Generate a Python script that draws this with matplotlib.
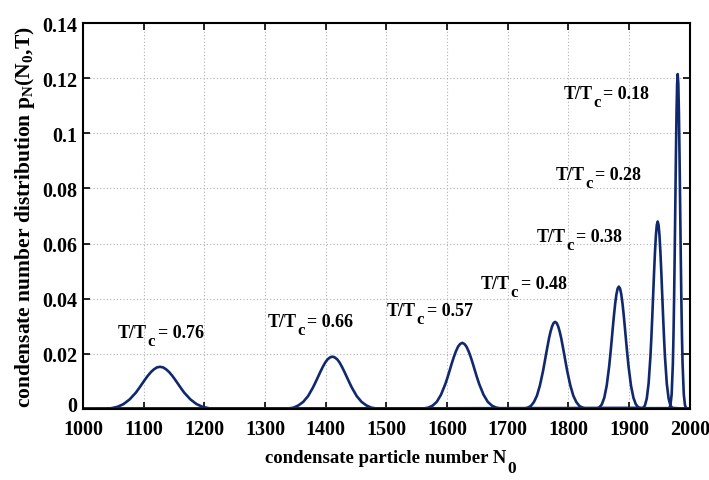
import matplotlib
matplotlib.use("Agg")
import matplotlib.pyplot as plt
from matplotlib.transforms import ScaledTranslation

plt.rcParams['font.family'] = ['Liberation Serif', 'DejaVu Serif']
plt.rcParams['font.weight'] = 'bold'
plt.rcParams['mathtext.fontset'] = 'custom'
plt.rcParams['mathtext.rm'] = 'Liberation Serif:bold'
plt.rcParams['mathtext.bf'] = 'Liberation Serif:bold'
plt.rcParams['mathtext.it'] = 'Liberation Serif:bold'
plt.rcParams['mathtext.default'] = 'rm'

# ---- data ----
x_076 = [1000, 1037, 1047, 1057, 1067, 1077, 1087, 1092, 1097, 1102, 1107, 1112, 1117, 1122, 1127, 1132, 1137, 1142, 1147, 1152, 1157, 1162, 1167, 1177, 1187, 1197, 1207, 1217, 2000]
y_076 = [0, .0001, .0003, .0008, .0018, .0035, .0059, .0074, .0090, .0106, .0121, .0134, .0144, .0151, .0153, .0151, .0144, .0134, .0121, .0106, .0090, .0074, .0059, .0035, .0018, .0008, .0003, .0001, 0]

x_066 = [1000, 1339, 1347, 1355, 1363, 1371, 1379, 1383, 1387, 1391, 1395, 1399, 1403, 1407, 1411, 1415, 1419, 1423, 1427, 1431, 1435, 1439, 1443, 1451, 1459, 1467, 1475, 1483, 2000]
y_066 = [0, .0002, .0005, .0013, .0026, .0047, .0078, .0096, .0115, .0134, .0152, .0168, .0180, .0187, .0190, .0187, .0180, .0168, .0152, .0134, .0115, .0096, .0078, .0047, .0026, .0013, .0005, .0002, 0]

x_057 = [1000, 1562, 1569, 1576, 1583, 1590, 1597, 1600.5, 1604, 1607.5, 1611, 1614.5, 1618, 1621.5, 1625, 1628.5, 1632, 1635.5, 1639, 1642.5, 1646, 1649.5, 1653, 1660, 1667, 1674, 1681, 1688, 2000]
y_057 = [0, .0002, .0005, .0012, .0026, .0052, .0090, .0113, .0138, .0164, .0188, .0209, .0226, .0236, .0240, .0236, .0226, .0209, .0188, .0164, .0138, .0113, .0090, .0052, .0026, .0012, .0005, .0002, 0]

x_048 = [1000, 1728, 1733, 1738, 1743, 1748, 1753, 1758, 1760.5, 1763, 1765.5, 1768, 1770.5, 1773, 1775.5, 1778, 1780.5, 1783, 1785.5, 1788, 1790.5, 1793, 1795.5, 1798, 1803, 1808, 1813, 1818, 1823, 1828, 2000]
y_048 = [0, .0002, .0005, .0011, .0025, .0048, .0086, .0137, .0167, .0198, .0228, .0257, .0281, .0300, .0312, .0316, .0312, .0300, .0281, .0257, .0228, .0198, .0167, .0137, .0086, .0048, .0025, .0011, .0005, .0002, 0]

x_038 = [1000, 1847, 1851, 1855, 1859, 1863, 1867, 1869, 1871, 1873, 1875, 1877, 1879, 1881, 1883, 1885, 1887, 1889, 1891, 1893, 1895, 1897, 1899, 1903, 1907, 1911, 1915, 1919, 2000]
y_038 = [0, .0002, .0006, .0017, .0041, .0085, .0154, .0198, .0245, .0294, .0341, .0383, .0416, .0437, .0444, .0437, .0416, .0383, .0341, .0294, .0245, .0198, .0154, .0085, .0041, .0017, .0006, .0002, 0]

x_028 = [1000, 1923, 1926, 1929, 1932, 1935, 1936.5, 1938, 1939.5, 1941, 1942.5, 1944, 1945.5, 1947, 1948.5, 1950, 1951.5, 1953, 1954.5, 1956, 1957.5, 1959, 1962, 1965, 1968, 1971, 2000]
y_028 = [0, .0004, .0013, .0038, .0092, .0189, .0255, .0331, .0412, .0494, .0568, .0628, .0667, .0680, .0667, .0628, .0568, .0494, .0412, .0331, .0255, .0189, .0092, .0038, .0013, .0004, 0]

x_018 = [1000, 1966, 1968, 1970, 1972, 1973, 1974, 1975, 1976, 1977, 1978, 1979, 1980, 1981, 1982, 1983, 1984, 1985, 1986, 1987, 1988, 1990, 1992, 1994, 2000]
y_018 = [0, .0003, .0013, .0053, .0164, .0263, .0395, .0556, .0737, .0917, .1072, .1178, .1215, .1178, .1072, .0917, .0737, .0556, .0395, .0263, .0164, .0053, .0013, .0003, 0]

series = [(x_076, y_076), (x_066, y_066), (x_057, y_057), (x_048, y_048),
          (x_038, y_038), (x_028, y_028), (x_018, y_018)]

labels = ['0.76', '0.66', '0.57', '0.48', '0.38', '0.28', '0.18']
label_x = [1058, 1304, 1501, 1656, 1748, 1779, 1792]
label_y = [0.0260, 0.0300, 0.0342, 0.0440, 0.0608, 0.0836, 0.1127]

x_ticks = [1000, 1100, 1200, 1300, 1400, 1500, 1600, 1700, 1800, 1900, 2000]
y_ticks = [0, 0.02, 0.04, 0.06, 0.08, 0.1, 0.12, 0.14]
y_ticklabels = ['0', '0.02', '0.04', '0.06', '0.08', '0.1', '0.12', '0.14']

# ---- figure ----
fig = plt.figure(figsize=(7.09, 4.81), dpi=100)
ax = fig.add_axes([0.117, 0.1476, 0.856, 0.8024])

line_color = '#10286e'
for xs, ys in series:
    ax.plot(xs, ys, color=line_color, lw=1.9, solid_joinstyle='round',
            solid_capstyle='round')

ax.set_xlim(1000, 2000)
ax.set_ylim(0, 0.14)
ax.set_xticks(x_ticks)
ax.set_yticks(y_ticks)
ax.set_yticklabels(y_ticklabels)
ax.tick_params(direction='in', length=5, width=1.2, top=True, right=True,
               labelsize=14.5)
ax.tick_params(axis='x', pad=7)
ax.tick_params(axis='y', pad=4)
for t in ax.get_xticklabels() + ax.get_yticklabels():
    t.set_fontweight('bold')
# lift the "0" y label a little, as in the reference
zero_lbl = ax.get_yticklabels()[0]
zero_lbl.set_transform(zero_lbl.get_transform() +
                       ScaledTranslation(0, 4 / 72, fig.dpi_scale_trans))
ax.grid(True, linestyle=(0, (1, 2)), color='#b0b0b0', lw=0.8)
for s in ax.spines.values():
    s.set_linewidth(1.5)
    s.set_color('black')

ax.set_ylabel(r'condensate number distribution p$_\mathrm{N}$(N$_\mathrm{0}$,T)',
              fontsize=15.5, fontweight='bold', labelpad=4)

fig.canvas.draw()
renderer = fig.canvas.get_renderer()

# x label with MATLAB-like low subscript
xl = fig.text(265 / 709, (481 - 463) / 481, 'condensate particle number N',
              fontsize=13.5, fontweight='bold', ha='left', va='baseline')
wx = xl.get_window_extent(renderer)
fig.text((wx.x1 + 1) / 709, (481 - 473) / 481, '0', fontsize=12.5,
         fontweight='bold', ha='left', va='baseline')

# annotations with MATLAB-like low subscript
main_fs = 13
sub_fs = 12
for lab, lx, ly in zip(labels, label_x, label_y):
    t1 = ax.text(lx, ly, 'T/T', fontsize=main_fs, fontweight='bold',
                 ha='left', va='baseline')
    w1 = t1.get_window_extent(renderer).width
    t2 = ax.annotate('c', xy=(lx, ly), xycoords='data', xytext=(w1 + 0.5, -8),
                     textcoords='offset pixels', fontsize=sub_fs, fontweight='bold',
                     ha='left', va='baseline')
    w2 = t2.get_window_extent(renderer).width
    ax.annotate('= ' + lab, xy=(lx, ly), xycoords='data',
                xytext=(w1 + w2 + 3, 0), textcoords='offset pixels',
                fontsize=main_fs, fontweight='bold', ha='left', va='baseline')

fig.savefig('out.png', dpi=100)
